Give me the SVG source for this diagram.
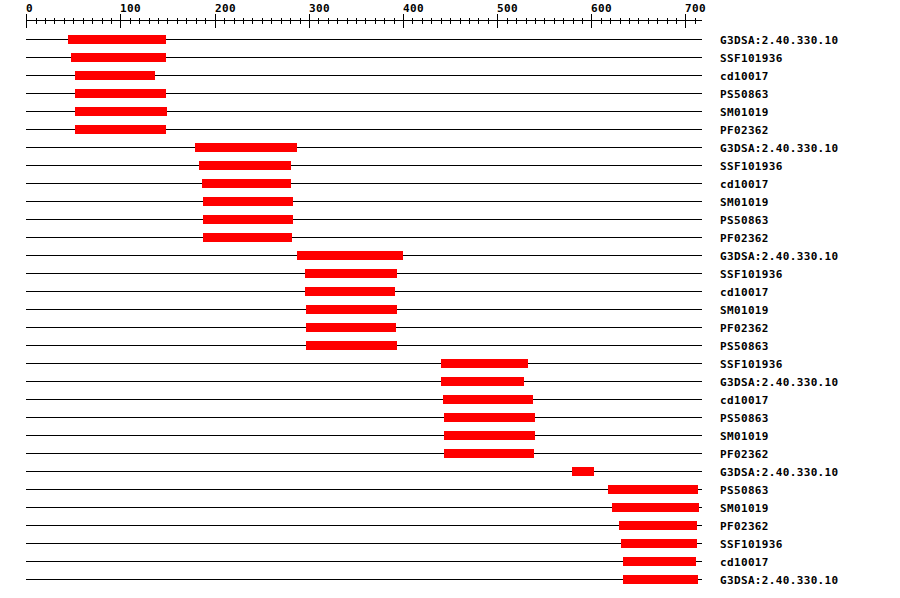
<svg xmlns="http://www.w3.org/2000/svg" width="900" height="598" viewBox="0 0 900 598">
<style>
text{font-family:"DejaVu Sans Mono","Liberation Mono",monospace;font-weight:bold;font-size:11px;letter-spacing:0.35px;fill:#000}
.trk{stroke:#000;stroke-width:1;fill:none}
.bar{fill:#ff0000}
.tk{stroke:#000;stroke-width:1}
</style>
<rect width="900" height="598" fill="#fff"/>
<g id="ruler">
<line class="tk" x1="26" y1="20.5" x2="702" y2="20.5"/>
<path class="tk" fill="none" d="M26.5 14V28M120.5 14V28M215.5 14V28M309.5 14V28M403.5 14V28M497.5 14V28M591.5 14V28M685.5 14V28
M36.5 18V24M45.5 18V24M54.5 18V24M64.5 18V24M73.5 18V24M83.5 18V24M92.5 18V24M102.5 18V24M111.5 18V24
M130.5 18V24M139.5 18V24M149.5 18V24M158.5 18V24M167.5 18V24M177.5 18V24M186.5 18V24M196.5 18V24M205.5 18V24
M224.5 18V24M234.5 18V24M243.5 18V24M252.5 18V24M262.5 18V24M271.5 18V24M281.5 18V24M290.5 18V24M300.5 18V24
M318.5 18V24M328.5 18V24M337.5 18V24M347.5 18V24M356.5 18V24M365.5 18V24M375.5 18V24M384.5 18V24M394.5 18V24
M412.5 18V24M422.5 18V24M431.5 18V24M441.5 18V24M450.5 18V24M460.5 18V24M469.5 18V24M478.5 18V24M488.5 18V24
M507.5 18V24M516.5 18V24M526.5 18V24M535.5 18V24M544.5 18V24M554.5 18V24M563.5 18V24M573.5 18V24M582.5 18V24
M601.5 18V24M610.5 18V24M620.5 18V24M629.5 18V24M638.5 18V24M648.5 18V24M657.5 18V24M667.5 18V24M676.5 18V24
M695.5 18V24"/>
<text x="26" y="12">0</text>
<text x="120" y="12">100</text>
<text x="215" y="12">200</text>
<text x="309" y="12">300</text>
<text x="403" y="12">400</text>
<text x="497" y="12">500</text>
<text x="591" y="12">600</text>
<text x="685" y="12">700</text>
</g>
<g id="connectors">
<path class="trk" d="M26 39.5H702M26 57.5H702M26 75.5H702M26 93.5H702M26 111.5H702M26 129.5H702M26 147.5H702M26 165.5H702M26 183.5H702M26 201.5H702M26 219.5H702M26 237.5H702M26 255.5H702M26 273.5H702M26 291.5H702M26 309.5H702M26 327.5H702M26 345.5H702M26 363.5H702M26 381.5H702M26 399.5H702M26 417.5H702M26 435.5H702M26 453.5H702M26 471.5H702M26 489.5H702M26 507.5H702M26 525.5H702M26 543.5H702M26 561.5H702M26 579.5H702"/>
</g>
<g id="row1"><rect class="bar" x="68" y="35" width="98" height="9"/><text x="720" y="44">G3DSA:2.40.330.10</text></g>
<g id="row2"><rect class="bar" x="71" y="53" width="95" height="9"/><text x="720" y="62">SSF101936</text></g>
<g id="row3"><rect class="bar" x="75" y="71" width="80" height="9"/><text x="720" y="80">cd10017</text></g>
<g id="row4"><rect class="bar" x="75" y="89" width="91" height="9"/><text x="720" y="98">PS50863</text></g>
<g id="row5"><rect class="bar" x="75" y="107" width="92" height="9"/><text x="720" y="116">SM01019</text></g>
<g id="row6"><rect class="bar" x="75" y="125" width="91" height="9"/><text x="720" y="134">PF02362</text></g>
<g id="row7"><rect class="bar" x="195" y="143" width="102" height="9"/><text x="720" y="152">G3DSA:2.40.330.10</text></g>
<g id="row8"><rect class="bar" x="199" y="161" width="92" height="9"/><text x="720" y="170">SSF101936</text></g>
<g id="row9"><rect class="bar" x="202" y="179" width="89" height="9"/><text x="720" y="188">cd10017</text></g>
<g id="row10"><rect class="bar" x="203" y="197" width="90" height="9"/><text x="720" y="206">SM01019</text></g>
<g id="row11"><rect class="bar" x="203" y="215" width="90" height="9"/><text x="720" y="224">PS50863</text></g>
<g id="row12"><rect class="bar" x="203" y="233" width="89" height="9"/><text x="720" y="242">PF02362</text></g>
<g id="row13"><rect class="bar" x="297" y="251" width="106" height="9"/><text x="720" y="260">G3DSA:2.40.330.10</text></g>
<g id="row14"><rect class="bar" x="305" y="269" width="92" height="9"/><text x="720" y="278">SSF101936</text></g>
<g id="row15"><rect class="bar" x="305" y="287" width="90" height="9"/><text x="720" y="296">cd10017</text></g>
<g id="row16"><rect class="bar" x="306" y="305" width="91" height="9"/><text x="720" y="314">SM01019</text></g>
<g id="row17"><rect class="bar" x="306" y="323" width="90" height="9"/><text x="720" y="332">PF02362</text></g>
<g id="row18"><rect class="bar" x="306" y="341" width="91" height="9"/><text x="720" y="350">PS50863</text></g>
<g id="row19"><rect class="bar" x="441" y="359" width="87" height="9"/><text x="720" y="368">SSF101936</text></g>
<g id="row20"><rect class="bar" x="441" y="377" width="83" height="9"/><text x="720" y="386">G3DSA:2.40.330.10</text></g>
<g id="row21"><rect class="bar" x="443" y="395" width="90" height="9"/><text x="720" y="404">cd10017</text></g>
<g id="row22"><rect class="bar" x="444" y="413" width="91" height="9"/><text x="720" y="422">PS50863</text></g>
<g id="row23"><rect class="bar" x="444" y="431" width="91" height="9"/><text x="720" y="440">SM01019</text></g>
<g id="row24"><rect class="bar" x="444" y="449" width="90" height="9"/><text x="720" y="458">PF02362</text></g>
<g id="row25"><rect class="bar" x="572" y="467" width="22" height="9"/><text x="720" y="476">G3DSA:2.40.330.10</text></g>
<g id="row26"><rect class="bar" x="608" y="485" width="90" height="9"/><text x="720" y="494">PS50863</text></g>
<g id="row27"><rect class="bar" x="612" y="503" width="87" height="9"/><text x="720" y="512">SM01019</text></g>
<g id="row28"><rect class="bar" x="619" y="521" width="78" height="9"/><text x="720" y="530">PF02362</text></g>
<g id="row29"><rect class="bar" x="621" y="539" width="76" height="9"/><text x="720" y="548">SSF101936</text></g>
<g id="row30"><rect class="bar" x="623" y="557" width="73" height="9"/><text x="720" y="566">cd10017</text></g>
<g id="row31"><rect class="bar" x="623" y="575" width="75" height="9"/><text x="720" y="584">G3DSA:2.40.330.10</text></g>
</svg>
